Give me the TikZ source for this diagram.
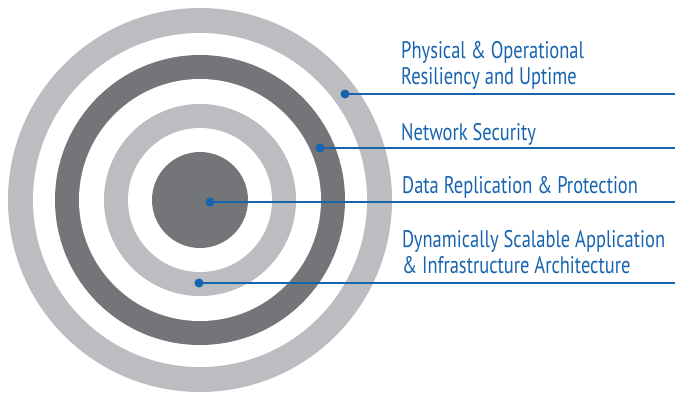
\documentclass[tikz,border=0pt]{standalone}
\usepackage{fontspec}
\setmainfont[FakeStretch=0.77]{PT Sans}
\definecolor{ringlight}{RGB}{188,189,192}
\definecolor{ringdark}{RGB}{116,117,121}
\definecolor{linkblue}{RGB}{22,100,176}
\tikzset{
  dot/.style={circle,fill=linkblue,inner sep=0pt,minimum size=9pt},
  link/.style={linkblue,line width=2.4pt},
  label/.style={anchor=base west,text=linkblue,font=\fontsize{24}{26}\selectfont,align=left,inner sep=0pt}
}

\begin{document}
\begin{tikzpicture}[x=1pt,y=-1pt]
  \useasboundingbox (0,0) rectangle (675,392);
  % target rings
  \fill[ringlight] (200,200) circle (192);
  \fill[white] (200,200) circle (167);
  \fill[ringdark] (200,200) circle (145);
  \fill[white] (200,200) circle (121);
  \fill[ringlight] (200,200) circle (96);
  \fill[white] (200,200) circle (72);
  \fill[ringdark] (200,200) circle (48);
  % dots and right ends
  \node[dot] (phys) at (345,94) {};
  \node[dot] (net) at (320,148) {};
  \node[dot] (data) at (210,202) {};
  \node[dot] (dyn) at (199,283) {};
  \coordinate (physend) at (675,94);
  \coordinate (netend) at (675,148);
  \coordinate (dataend) at (675,202);
  \coordinate (dynend) at (675,283);
  \draw[link] (phys.center) -- (physend);
  \draw[link] (net.center) -- (netend);
  \draw[link] (data.center) -- (dataend);
  \draw[link] (dyn.center) -- (dynend);
  % labels (base = last line)
  \node[label] (physlabel) at (401,84) {Physical \& Operational\\Resiliency and Uptime};
  \node[label] (netlabel) at (401,140) {Network Security};
  \node[label] (datalabel) at (402,193) {Data Replication \& Protection};
  \node[label] (dynlabel) at (402,273) {Dynamically Scalable Application\\\& Infrastructure Architecture};
\end{tikzpicture}
\end{document}
